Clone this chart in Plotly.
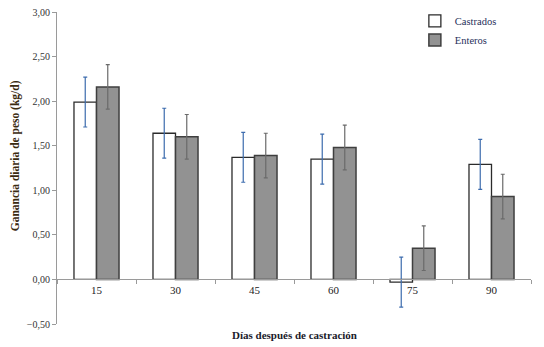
import plotly.graph_objects as go

# Days after castration and average daily gain (kg/d) with error margins
dias = ["15", "30", "45", "60", "75", "90"]
castrados = [1.99, 1.64, 1.37, 1.35, -0.03, 1.29]
castrados_err = [0.28, 0.28, 0.28, 0.28, 0.28, 0.28]
enteros = [2.16, 1.60, 1.39, 1.48, 0.35, 0.93]
enteros_err = [0.25, 0.25, 0.25, 0.25, 0.25, 0.25]

serif = "Liberation Serif"
y_min, y_max = -0.5, 3.0

fig = go.Figure()
fig.add_trace(go.Bar(
    x=dias, y=castrados, name="Castrados",
    marker=dict(color="white", line=dict(color="#2b2b2b", width=1.3)),
    error_y=dict(type="data", array=castrados_err, color="#3d6cae",
                 thickness=1.2, width=2),
))
fig.add_trace(go.Bar(
    x=dias, y=enteros, name="Enteros",
    marker=dict(color="#929292", line=dict(color="#3f3f3f", width=1.5)),
    error_y=dict(type="data", array=enteros_err, color="#6b6b6b",
                 thickness=1.2, width=2),
))

fig.update_layout(
    width=544, height=347,
    margin=dict(l=57, r=13, t=12, b=23, autoexpand=False),
    paper_bgcolor="white", plot_bgcolor="white",
    barmode="group", bargap=0.43, bargroupgap=0,
    separators=",.",
    font=dict(family=serif, size=10, color="#222222"),
    legend=dict(x=0.755, y=1.018, xanchor="left", yanchor="top",
                font=dict(family=serif, size=10.5, color="#1f2f5a"),
                bgcolor="rgba(0,0,0,0)"),
    xaxis=dict(
        anchor="free", position=(0 - y_min) / (y_max - y_min),
        showline=True, linecolor="#9a9a9a", linewidth=1,
        ticks="outside", tickson="boundaries", ticklen=4, tickcolor="#9a9a9a",
        tickfont=dict(family=serif, size=11, color="#222222"),
        showgrid=False, zeroline=False,
    ),
    yaxis=dict(
        range=[y_min, y_max], dtick=0.5, tickformat=".2f",
        showline=True, linecolor="#9a9a9a", linewidth=1,
        ticks="outside", ticklen=4, tickcolor="#9a9a9a",
        tickfont=dict(family=serif, size=10, color="#333333"),
        showgrid=False, zeroline=False,
    ),
    showlegend=True,
)

fig.add_annotation(
    text="<b>Ganancia diaria de peso (kg/d)</b>",
    xref="paper", yref="paper", x=-0.087, y=0.54,
    xanchor="center", yanchor="middle", textangle=-90, showarrow=False,
    font=dict(family=serif, size=11.5, color="#3a2a10"),
)
fig.add_annotation(
    text="<b>Días después de castración</b>",
    xref="paper", yref="paper", x=0.5, y=-0.01,
    xanchor="center", yanchor="top", showarrow=False,
    font=dict(family=serif, size=11, color="#1a1a2a"),
)

fig.write_html("out.html")
